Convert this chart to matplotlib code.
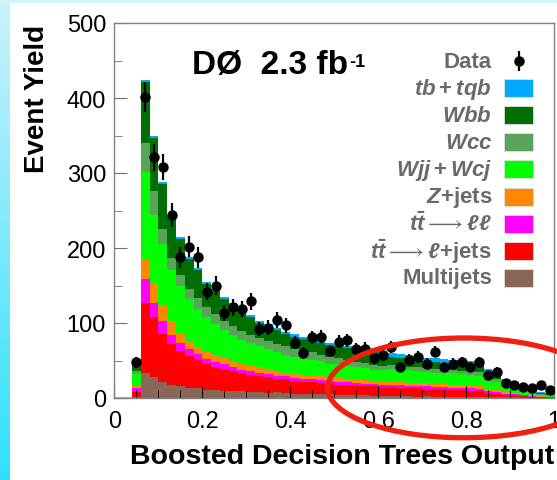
import numpy as np
import matplotlib.pyplot as plt
from matplotlib.patches import Rectangle, Ellipse

plt.rcParams['font.family'] = ['Liberation Sans', 'DejaVu Sans']
plt.rcParams['mathtext.fontset'] = 'custom'
plt.rcParams['mathtext.rm'] = 'Liberation Sans:bold'
plt.rcParams['mathtext.it'] = 'Liberation Sans:bold:italic'
plt.rcParams['mathtext.bf'] = 'Liberation Sans:bold'
plt.rcParams['mathtext.fallback'] = 'stix'

# 50 bins of width 0.02 on [0, 1]
bin_width = 0.02
edges = np.arange(51) * bin_width

# stacked backgrounds (events per bin), bottom to top
multijets = [0, 0, 2, 34, 28, 21, 17, 16, 13, 14, 11, 11, 10, 9, 10, 8, 8, 7, 8, 7,
             6, 6, 5, 6, 5, 4, 4, 4, 4, 3, 3, 3, 3, 3, 2, 3, 2, 2, 2, 2,
             2, 1.5, 1.5, 1, 1, 1, 0.5, 0.5, 0.3, 0.3]
tt_ljets = [0, 0, 6, 93, 80, 65, 55, 47, 43, 37, 34, 31, 29, 27, 23, 23, 21, 21, 18, 18,
            17, 16, 16, 14, 14, 14, 13.5, 13, 12, 12.5, 12, 11.5, 11, 10.5, 11, 9.5, 10, 9.5, 9, 8.5,
            8, 7.5, 5.5, 5, 3.5, 2.5, 2, 1.5, 1.2, 0.7]
tt_ll = [0, 0, 5, 32, 19, 17, 12, 11, 9, 8, 7, 6, 6, 5, 5, 5, 5, 4, 4, 4,
         4, 4, 4, 4, 4, 3, 3.5, 3, 3, 3, 3, 3, 3, 3, 3, 3, 3, 3, 3, 3,
         3, 3, 2.5, 2, 1.5, 1.5, 1, 0.8, 0.5, 0.5]
zjets = [0, 0, 3, 26, 26, 21, 19, 12, 11, 9, 9, 8, 8, 7, 7, 7, 7, 7, 6, 5,
         6, 5, 5, 5, 5, 6, 5, 5, 5, 4.5, 4, 4, 4, 4, 4, 4, 4, 4, 4, 4,
         4, 4, 2.5, 2.5, 2, 1.5, 1, 0.7, 0.5, 0.5]
wjj = [0, 0, 16, 116, 91, 81, 68, 63, 56, 51, 47, 43, 38, 36, 32, 30, 28, 26, 25, 24,
       22, 21, 21, 20, 18, 18, 17, 16, 16, 15, 15, 17.5, 17, 16.5, 16, 15.5, 15, 15, 15, 14.5,
       14, 14, 11, 10.5, 6, 5.5, 3.5, 2.5, 2, 1.5]
wcc = [0, 0, 4, 39, 32, 20, 16, 15, 14, 14, 13, 13, 12, 12, 12, 11, 11, 11, 11, 11,
       10, 10, 10, 9, 9, 8, 8, 7, 7, 6, 6, 5.5, 5, 5, 5, 4.5, 4.5, 4.5, 4.5, 4.5,
       4.5, 4.5, 5, 5, 3, 3, 2, 1.5, 0.8, 0.8]
wbb = [0, 0, 9, 82, 71, 61, 54, 48, 39, 38, 31, 31, 29, 28, 29, 24, 20, 20, 19, 16,
       17, 17, 17, 16, 16, 16, 16, 16.5, 15, 17, 17, 10.5, 11, 10, 10, 9.5, 9.5, 9, 8.5, 9.5,
       9.5, 9, 6, 6, 4, 4, 1, 1.5, 1, 0.5]
tb_tqb = [0, 0, 1, 2, 2, 2, 3, 3, 3, 3, 3, 3, 3, 3, 3, 3, 3, 3, 3, 3,
          3, 3, 3, 3, 3, 3, 3, 3, 3, 3, 3, 5, 5, 5, 5, 5, 5, 5, 5, 5,
          5, 5, 5, 5, 4, 3, 3, 2, 2, 1.5]

# observed data, bins 2..49
data = [47.5, 402, 321, 308, 244, 187.5, 202, 187.5, 142, 150, 113, 121, 119, 129, 92, 94,
        104, 97, 74, 60, 81, 82, 63, 75, 77, 65, 66, 53, 57, 68, 42, 51, 55, 46, 62, 42,
        46, 48, 42, 47.5, 31, 35, 20, 18, 15, 14, 18, 11]
data_err = [6.9, 20, 17.9, 17.5, 15.6, 13.7, 14.2, 13.7, 11.9, 12.2, 10.6, 11, 10.9, 11.4, 9.6, 9.7,
            10.2, 9.8, 8.6, 7.7, 9, 9.1, 7.9, 8.7, 8.8, 8.1, 8.1, 7.3, 7.5, 8.2, 6.5, 7.1,
            7.4, 6.8, 7.9, 6.5, 6.8, 6.9, 6.5, 6.9, 5.6, 5.9, 4.5, 4.2, 3.9, 3.7, 4.2, 3.3]

layers = [multijets, tt_ljets, tt_ll, zjets, wjj, wcc, wbb, tb_tqb]
colors = ['#8a6656', '#ff0000', '#ff00ff', '#ff8800', '#00ff00', '#5aa35a', '#006e00', '#00aaff']
labels = ['Multijets', r'$t\bar{t}\longrightarrow\ell$+jets',
          r'$t\bar{t}\longrightarrow\ell\ell$',
          '$Z$+jets', '$Wjj+Wcj$', '$Wcc$', '$Wbb$', '$tb+tqb$']

fig = plt.figure(figsize=(5.57, 4.81), dpi=100)

# cyan slide border
H, W = 481, 557
img = np.ones((H, W, 3))
t = np.linspace(0, 1, H)[:, None]
strip = (1 - t) * np.array([0.80, 0.95, 0.98]) + t * np.array([0.18, 0.88, 1.0])
img[:, :10, :] = strip[:, None, :]
img[:4, :, :] = [0.82, 0.96, 0.98]
bg = fig.add_axes([0, 0, 1, 1], zorder=-5)
bg.imshow(img, aspect='auto', interpolation='nearest')
bg.axis('off')

ax = fig.add_axes([114.4 / 557, 82 / 481, 439.6 / 557, 375 / 481])
ax.set_facecolor('white')

bottom = np.zeros(len(edges) - 1)
for vals, c in zip(layers, colors):
    top = bottom + np.array(vals)
    ax.stairs(top, edges, baseline=bottom, fill=True, color=c, lw=0)
    bottom = top
ax.hlines(0, edges[0], edges[2], color='#d89a50', lw=1.2)

centers = (edges[:-1] + edges[1:]) / 2
ax.errorbar(centers[2:], data, yerr=data_err, fmt='o', color='black', ms=6.5,
            elinewidth=1.6, capsize=0, zorder=4)

ax.set_xlim(0, 1)
ax.set_ylim(0, 500)
ax.set_xticks([0, 0.2, 0.4, 0.6, 0.8, 1])
ax.set_xticklabels(['0', '0.2', '0.4', '0.6', '0.8', '1'])
ax.set_xticks(np.arange(0, 1.001, 0.05), minor=True)
ax.set_yticks([0, 100, 200, 300, 400, 500])
ax.set_yticks(np.arange(0, 501, 50), minor=True)
ax.tick_params(which='both', direction='in', top=False, right=False, labelsize=17, pad=6)
ax.tick_params(axis='x', pad=9)
ax.tick_params(which='major', length=9)
ax.tick_params(which='minor', length=6)
ax.tick_params(axis='y', which='both', color='#707070')
for s in ax.spines.values():
    s.set_color('#808080')
    s.set_linewidth(1)

lumi = ax.text(0.177, 0.867, 'DØ  2.3 fb', transform=ax.transAxes, fontsize=24,
               fontweight='bold', va='baseline')
ax.annotate('-1', xy=(1, 1), xycoords=lumi, xytext=(0.5, -3), textcoords='offset points',
            fontsize=13, fontweight='bold', ha='left', va='top')

# legend drawn by hand, right aligned labels with swatches
leg_labels = ['Data'] + labels[::-1]
leg_colors = [None] + colors[::-1]
for i, (lab, c) in enumerate(zip(leg_labels, leg_colors)):
    yp = 62 + 27.1 * i
    ya = (399 - yp) / 375
    ax.text((492 - 114.4) / 439.6, ya, lab, transform=ax.transAxes, ha='right', va='center',
            fontsize=16, fontweight='bold', color='#6a6a6a')
    if c is None:
        ax.errorbar([(519 - 114.4) / 439.6], [ya], yerr=[10 / 375], fmt='o', color='black',
                    ms=6.5, elinewidth=1.6, transform=ax.transAxes, clip_on=False)
    else:
        ax.add_patch(Rectangle(((504 - 114.4) / 439.6, ya - 9 / 375), 29 / 439.6, 18 / 375,
                               transform=ax.transAxes, facecolor=c, edgecolor='#e0e0e0',
                               lw=0.6, zorder=5))

ax.add_patch(Ellipse((0.795, 13.5), 0.62, 133, fill=False, ec='#f02010', lw=3.8,
                     clip_on=False, zorder=6))

fig.text(554 / 557, 1 - 457 / 481, 'Boosted Decision Trees Output', ha='right', va='center',
         fontsize=20.5, fontweight='bold')
fig.text(37 / 557, 1 - 25 / 481, 'Event Yield', rotation=90, ha='center', va='top',
         fontsize=20, fontweight='bold')

fig.savefig('out.png', dpi=100)
